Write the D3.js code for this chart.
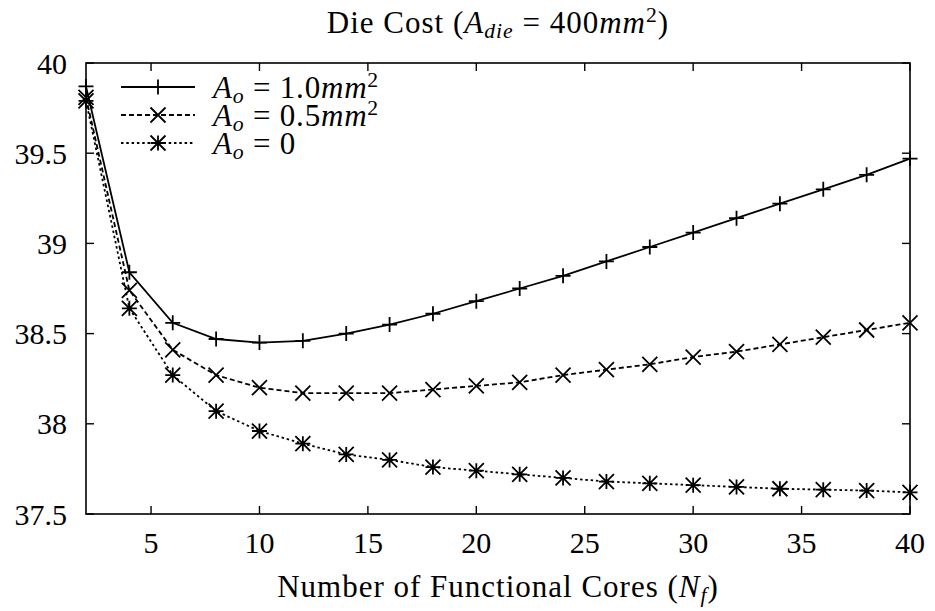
<!DOCTYPE html>
<html lang="en">
<head>
<meta charset="UTF-8">
<title>Die Cost</title>
<style>
  body { margin: 0; background: #fff; }
  text { font-family: "Liberation Serif", "DejaVu Serif", serif; fill: #000; }
</style>
</head>
<body>
<svg width="935" height="611"></svg>
<script src="https://d3js.org/d3.v7.min.js"></script>
<script>
// data
const cores = [2, 4, 6, 8, 10, 12, 14, 16, 18, 20, 22, 24, 26, 28, 30, 32, 34, 36, 38, 40];
const ao10 = [39.87, 38.84, 38.56, 38.47, 38.45, 38.46, 38.50, 38.55, 38.61, 38.68, 38.75, 38.82, 38.90, 38.98, 39.06, 39.14, 39.22, 39.30, 39.38, 39.47];
const ao05 = [39.81, 38.74, 38.41, 38.27, 38.20, 38.17, 38.17, 38.17, 38.19, 38.21, 38.23, 38.27, 38.30, 38.33, 38.37, 38.40, 38.44, 38.48, 38.52, 38.56];
const ao00 = [39.79, 38.64, 38.27, 38.07, 37.96, 37.89, 37.83, 37.80, 37.76, 37.74, 37.72, 37.70, 37.68, 37.67, 37.66, 37.65, 37.64, 37.635, 37.63, 37.62];
const xTicks = [5, 10, 15, 20, 25, 30, 35, 40];
const yTicks = [37.5, 38, 38.5, 39, 39.5, 40];
const legendVals = ["1.0", "0.5", "0"];

let svg = d3.select("svg"),
    margin = { top: 63, right: 25, bottom: 97, left: 86 },
    width = +svg.attr("width") - margin.left - margin.right,
    height = +svg.attr("height") - margin.top - margin.bottom,
    g = svg.append("g").attr("transform", "translate(" + margin.left + "," + margin.top + ")");

let x = d3.scaleLinear().domain([2, 40]).range([0, width]);
let y = d3.scaleLinear().domain([37.5, 40]).range([height, 0]);

const tick = 8, fs = 30, fsT = 31;
const eq = " = ";

// frame
g.append("rect")
    .attr("width", width).attr("height", height)
    .attr("fill", "none").attr("stroke", "#000").attr("stroke-width", 1.6);

// x ticks (bottom + mirrored top)
xTicks.forEach(v => {
    g.append("line").attr("x1", x(v)).attr("x2", x(v)).attr("y1", height).attr("y2", height - tick)
        .attr("stroke", "#000").attr("stroke-width", 1.4);
    g.append("line").attr("x1", x(v)).attr("x2", x(v)).attr("y1", 0).attr("y2", tick)
        .attr("stroke", "#000").attr("stroke-width", 1.4);
    g.append("text").attr("x", x(v)).attr("y", height + 39)
        .attr("text-anchor", "middle").attr("font-size", fs).text(v);
});

// y ticks (left + mirrored right)
yTicks.forEach(v => {
    g.append("line").attr("x1", 0).attr("x2", tick).attr("y1", y(v)).attr("y2", y(v))
        .attr("stroke", "#000").attr("stroke-width", 1.4);
    g.append("line").attr("x1", width).attr("x2", width - tick).attr("y1", y(v)).attr("y2", y(v))
        .attr("stroke", "#000").attr("stroke-width", 1.4);
    g.append("text").attr("x", -19).attr("y", y(v)).attr("dy", "0.35em")
        .attr("text-anchor", "end").attr("font-size", fs).text(v);
});

// markers
const plus = "M-7.5,0H7.5M0,-7.5V7.5";
const cross = "M-7.5,-7.5L7.5,7.5M-7.5,7.5L7.5,-7.5";
const star = plus + cross;

const series = [
    { vals: ao10, dash: null, mark: plus },
    { vals: ao05, dash: "5,3", mark: cross },
    { vals: ao00, dash: "2.5,2.8", mark: star }
];

let line = d3.line()
    .x((d, i) => x(cores[i]))
    .y(d => y(d));

series.forEach(s => {
    g.append("path")
        .datum(s.vals)
        .attr("fill", "none")
        .attr("stroke", "#000")
        .attr("stroke-width", 1.8)
        .attr("stroke-dasharray", s.dash)
        .attr("d", line);
    g.selectAll(null)
        .data(s.vals)
        .enter().append("path")
        .attr("transform", (d, i) => "translate(" + x(cores[i]) + "," + y(d) + ")")
        .attr("d", s.mark)
        .attr("fill", "none")
        .attr("stroke", "#000")
        .attr("stroke-width", 1.8);
});

// legend
series.forEach((s, i) => {
    const ly = 24 + i * 28;
    g.append("line").attr("x1", 35).attr("x2", 109).attr("y1", ly).attr("y2", ly)
        .attr("stroke", "#000").attr("stroke-width", 1.8).attr("stroke-dasharray", s.dash);
    g.append("path").attr("transform", "translate(72," + ly + ")").attr("d", s.mark)
        .attr("fill", "none").attr("stroke", "#000").attr("stroke-width", 1.8);
    const t = g.append("text").attr("x", 127).attr("y", ly).attr("dy", "0.35em")
        .attr("font-size", fsT).attr("letter-spacing", 0.8);
    t.append("tspan").attr("font-style", "italic").text("A");
    t.append("tspan").attr("font-style", "italic").attr("font-size", fsT * 0.7).attr("dy", "0.25em").text("o");
    t.append("tspan").attr("dy", "-0.18em").text(eq + legendVals[i]);
    if (i < 2) {
        t.append("tspan").attr("font-style", "italic").text("mm");
        t.append("tspan").attr("font-size", fsT * 0.7).attr("dy", "-0.5em").text("2");
    }
});

// title
const title = svg.append("text").attr("x", margin.left + width / 2).attr("y", 33)
    .attr("text-anchor", "middle").attr("font-size", fsT).attr("letter-spacing", 1);
title.append("tspan").text("Die Cost (");
title.append("tspan").attr("font-style", "italic").text("A");
title.append("tspan").attr("font-style", "italic").attr("font-size", fsT * 0.7).attr("dy", "0.25em").text("die");
title.append("tspan").attr("dy", "-0.18em").text(eq + "400");
title.append("tspan").attr("font-style", "italic").text("mm");
title.append("tspan").attr("font-size", fsT * 0.7).attr("dy", "-0.5em").text("2");
title.append("tspan").attr("dy", "0.35em").text(")");

// x axis title
const xt = svg.append("text").attr("x", margin.left + width / 2).attr("y", 597)
    .attr("text-anchor", "middle").attr("font-size", fsT).attr("letter-spacing", 1);
xt.append("tspan").text("Number of Functional Cores (");
xt.append("tspan").attr("font-style", "italic").text("N");
xt.append("tspan").attr("font-style", "italic").attr("font-size", fsT * 0.7).attr("dy", "0.25em").text("f");
xt.append("tspan").attr("dy", "-0.18em").text(")");
</script>
</body>
</html>
